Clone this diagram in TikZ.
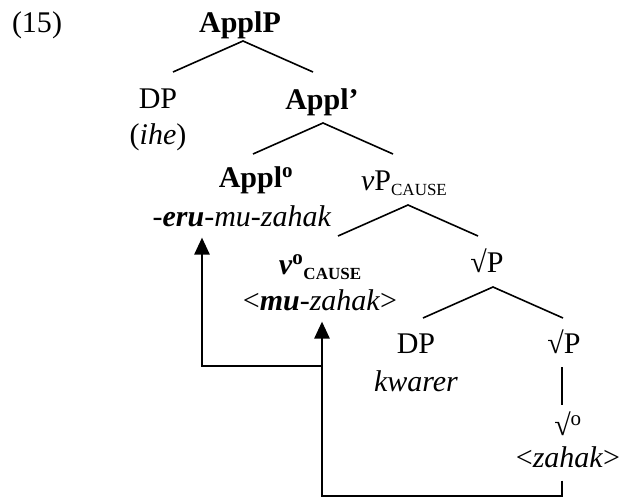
\documentclass[tikz,border=0pt]{standalone}
\usepackage{fontspec}
\setmainfont{Liberation Serif}
\usetikzlibrary{arrows.meta,positioning}

\newcommand{\cause}{\raisebox{-5pt}{\fontsize{17}{17}\selectfont CAUSE}}
\newcommand{\hd}{\textsuperscript{o}}

\begin{document}
\begin{tikzpicture}[x=1pt, y=-1pt,
  lbl/.style={anchor=base, align=center, inner sep=1pt, font=\fontsize{30}{36}\selectfont},
  branch/.style={line width=1.6pt},
  move/.style={line width=2.6pt, shorten >=10pt, -{Triangle[length=17pt,width=15pt]}}]
\useasboundingbox (0,0) rectangle (623,501);
\node[lbl] (ex) at (37,32) {(15)};
\node[lbl] (applp) at (240,32) {\textbf{ApplP}};
\node[lbl] (dp1) at (158,144) {DP\\(\textit{ihe})};
\node[lbl] (applbar) at (322,109) {\textbf{Appl’}};
\node[lbl] (applhead) at (242,226) {\hspace*{28pt}\textbf{Appl\hd}\\[3pt]\textit{-\textbf{eru}-mu-zahak}};
\node[lbl] (vp) at (404,190) {\textit{v}P\cause};
\node[lbl] (vhead) at (320,310) {\textbf{\textit{v}\hd\cause}\\<\textit{\textbf{mu}-zahak}>};
\node[lbl] (rootp1) at (487,272) {√P};
\node[lbl] (dp2) at (416,391) {DP\\[2pt]\textit{kwarer}};
\node[lbl] (rootp2) at (564,353) {√P};
\node[lbl] (roothead) at (568,467) {√\hd\\[-4pt]<\textit{zahak}>};

% branches
\foreach \n/\dx/\dy in {applp/3/9, applbar/1/14, vp/4/15, rootp1/6/15}
  \draw[branch] ([shift={(\dx-70,\dy+31)}]\n.base) -- ([shift={(\dx,\dy)}]\n.base) -- ([shift={(\dx+70,\dy+31)}]\n.base);
\draw[branch] ([shift={(-2,14)}]rootp2.base) -- ([shift={(-2,52)}]rootp2.base);

% movement
\coordinate (low) at (0,496);
\coordinate (mid) at (0,366);
\draw[move, shorten <=12pt] ([xshift=-6]roothead.south) -- ([xshift=-6]roothead.south |- low) -| ([xshift=2]vhead.south);
\draw[move] ([xshift=2]vhead.south |- mid) -| ([xshift=-40]applhead.south);
\end{tikzpicture}
\end{document}
